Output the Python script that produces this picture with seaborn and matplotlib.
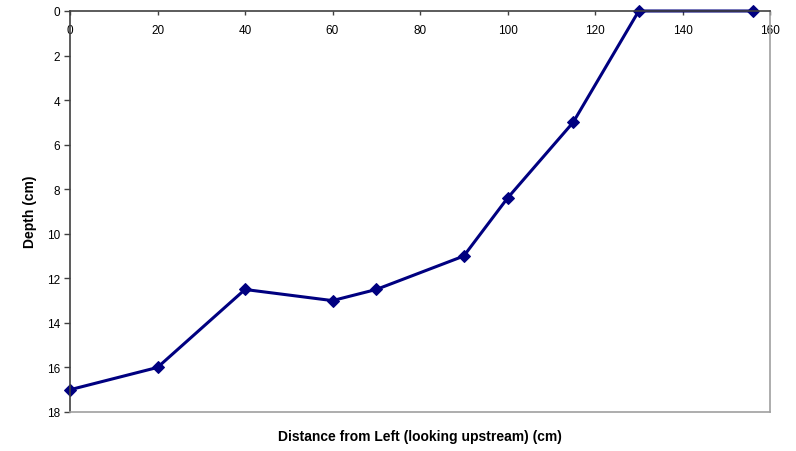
import matplotlib
matplotlib.use("Agg")
import matplotlib.pyplot as plt
import seaborn as sns
import pandas as pd

distance = [0, 20, 40, 60, 70, 90, 100, 115, 130, 156]
depth = [17, 16, 12.5, 13, 12.5, 11, 8.4, 5, 0, 0]
x_ticks = [0, 20, 40, 60, 80, 100, 120, 140, 160]
y_ticks = [0, 2, 4, 6, 8, 10, 12, 14, 16, 18]

sns.set_style("white")
plt.rcParams['font.family'] = ['Liberation Sans', 'DejaVu Sans']
plt.rcParams['text.color'] = 'black'

df = pd.DataFrame({"Distance": distance, "Depth": depth})

fig = plt.figure(figsize=(7.96, 4.52), dpi=100)
ax = fig.add_axes([70/796, 1-413/452, 700/796, 401/452])

sns.lineplot(data=df, x="Distance", y="Depth", ax=ax, color="#000080",
             linewidth=2.2, marker="D", markersize=6,
             markeredgecolor="#000080", markerfacecolor="#000080", clip_on=False)

ax.set_xlim(0, 160)
ax.set_ylim(18, 0)
ax.set_xticks(x_ticks)
ax.set_yticks(y_ticks)
ax.set_xticklabels([str(v) for v in x_ticks])
ax.set_yticklabels([str(v) for v in y_ticks])

ax.xaxis.tick_top()
ax.tick_params(axis='x', direction='in', length=3, width=1, color='#404040',
               labelsize=8.5, pad=-18, top=True, bottom=False, labelcolor='#000000')
ax.tick_params(axis='y', direction='out', length=4, width=1, color='#404040',
               labelsize=8.5, pad=3, left=True, labelcolor='#000000')

for s in ['left', 'top']:
    ax.spines[s].set_color('#404040')
    ax.spines[s].set_linewidth(1.2)
for s in ['right', 'bottom']:
    ax.spines[s].set_color('#a0a0a0')
    ax.spines[s].set_linewidth(1.2)
    ax.spines[s].set_visible(True)

ax.set_xlabel("")
ax.set_ylabel("")
fig.text((70 + 770) / 2 / 796, 1 - 437/452, "Distance from Left (looking upstream) (cm)",
         ha='center', va='center', fontsize=10, fontweight='bold', color='black')
fig.text(30/796, 1 - 212/452, "Depth (cm)", ha='center', va='center',
         rotation=90, fontsize=10, fontweight='bold', color='black')

fig.savefig("out.png", dpi=100)
